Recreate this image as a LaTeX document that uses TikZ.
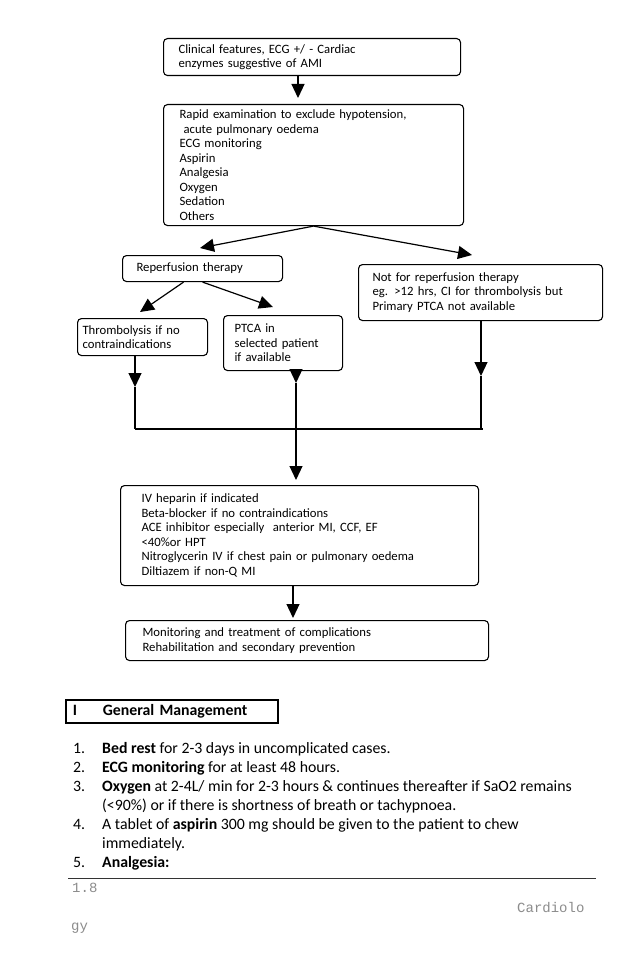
\documentclass[tikz,border=0pt]{standalone}
\usepackage{fontspec}
\setmainfont{Carlito}
\newfontfamily\monof{Liberation Mono}
\usetikzlibrary{arrows.meta}
\begin{document}
\begin{tikzpicture}[x=1pt,y=-1pt,
  box/.style={draw, line width=1.1pt, rounded corners=4pt, anchor=north west,
    align=left, inner ysep=0pt, font=\fontsize{12.7}{14.5}\selectfont},
  arr/.style={line width=1.2pt, -{Triangle[length=14pt,width=13pt]}},
  ln/.style={line width=1.2pt},
  lst/.style={anchor=base west, inner sep=0pt, font=\fontsize{15.8}{19}\selectfont},
  foot/.style={anchor=base west, inner sep=0pt, text=black!45, font=\monof\fontsize{14}{16}\selectfont},
]
\fill[white] (0,0) rectangle (638,963);
\useasboundingbox (0,0) rectangle (638,963);

% boxes
\node[box, inner xsep=15pt, text width=267pt, minimum width=297pt, minimum height=37pt] (b1) at (163,38)
  {Clinical features, ECG +/ - Cardiac\\enzymes suggestive of AMI};
\node[box, inner xsep=16pt, text width=268pt, minimum width=300pt, minimum height=121pt] (b2) at (163,104)
  {Rapid examination to exclude hypotension,\\\hspace*{4pt}acute pulmonary oedema\\ECG monitoring\\Aspirin\\Analgesia\\Oxygen\\Sedation\\Others};
\node[box, inner xsep=14pt, text width=132pt, minimum width=160pt, minimum height=26pt] (b3) at (122,255)
  {Reperfusion therapy};
\node[box, inner xsep=14pt, text width=216pt, minimum width=244pt, minimum height=56pt] (b4) at (358,264)
  {Not for reperfusion therapy\\eg. >12 hrs, CI for thrombolysis but\\Primary PTCA not available};
\node[box, inner xsep=5pt, text width=120pt, minimum width=130pt, minimum height=37pt] (bt) at (77,318)
  {Thrombolysis if no\\contraindications};
\node[box, inner xsep=11pt, text width=97pt, minimum width=119pt, minimum height=55pt] (bp) at (223,315)
  {PTCA in\\selected patient\\if available};
\node[box, inner xsep=21pt, text width=316pt, minimum width=358pt, minimum height=100pt] (b5) at (120,485)
  {IV heparin if indicated\\Beta-blocker if no contraindications\\ACE inhibitor especially\ \ anterior MI, CCF, EF\\<40\%or HPT\\Nitroglycerin IV if chest pain or pulmonary oedema\\Diltiazem if non-Q MI};
\node[box, inner xsep=17pt, text width=329pt, minimum width=363pt, minimum height=40pt] (b6) at (125,620)
  {Monitoring and treatment of complications\\Rehabilitation and secondary prevention};

% connector coordinates
\coordinate (c1) at (298,0);
\coordinate (c5) at (293,0);
\coordinate (dL) at (200,248);
\coordinate (dR) at (472,255);
\coordinate (eL) at (140,312);
\coordinate (eR) at (273,307);
\coordinate (tT) at (135,387);
\coordinate (tP) at (296,383);
\coordinate (tN) at (481,376);
\coordinate (jT) at (135,429);
\coordinate (jN) at (481,429);

\draw[arr, shorten >=6pt] (c1 |- b1.south) -- (c1 |- b2.north);
\draw[arr] (b2.south) -- (dL);
\draw[arr] (b2.south) -- (dR);
\draw[arr] ([xshift=-19pt]b3.south) -- (eL);
\draw[arr] (b3.south) -- (eR);
\draw[arr] (bt.south -| tT) -- (tT);
\draw[ln] (tT) -- (jT);
\draw[arr] (bp.south -| tP) -- (tP);
\draw[arr, shorten >=5pt] (tP) -- (tP |- b5.north);
\draw[arr] (b4.south -| tN) -- (tN);
\draw[ln] (tN) -- (jN);
\draw[ln] (jT) -- ([xshift=2pt]jN);
\draw[arr, shorten >=2pt] (c5 |- b5.south) -- (c5 |- b6.north);

% heading
\node[draw, line width=1.8pt, anchor=north west, minimum width=212pt, minimum height=23pt,
  inner xsep=7pt, text width=198pt, align=left, font=\fontsize{15.8}{18}\selectfont\bfseries] (hd) at (65,699)
  {\makebox[30pt][l]{I}General Management};

% list
\node[lst] (n1) at (73,753) {1.};
\node[lst] (l1) at (102,753) {\textbf{Bed rest} for 2-3 days in uncomplicated cases.};
\node[lst] (n2) at (73,772) {2.};
\node[lst] (l2) at (102,772) {\textbf{ECG monitoring} for at least 48 hours.};
\node[lst] (n3) at (73,791) {3.};
\node[lst] (l3) at (102,791) {\textbf{Oxygen} at 2-4L/ min for 2-3 hours \& continues thereafter if SaO2 remains};
\node[lst] (l3b) at (102,810) {(<90\%) or if there is shortness of breath or tachypnoea.};
\node[lst] (n4) at (73,829) {4.};
\node[lst] (l4) at (102,829) {A tablet of \textbf{aspirin} 300 mg should be given to the patient to chew};
\node[lst] (l4b) at (102,848) {immediately.};
\node[lst] (n5) at (73,867) {5.};
\node[lst] (l5) at (102,867) {\textbf{Analgesia:}};

% footer
\coordinate (fL) at (68,878);
\coordinate (fR) at (596,878);
\draw[line width=0.8pt, black!80] (fL) -- (fR);
\node[foot] (f1) at (72,892) {1.8};
\node[foot] (f2) at (517,912) {Cardiolo};
\node[foot] (f3) at (71,930) {gy};
\end{tikzpicture}
\end{document}
